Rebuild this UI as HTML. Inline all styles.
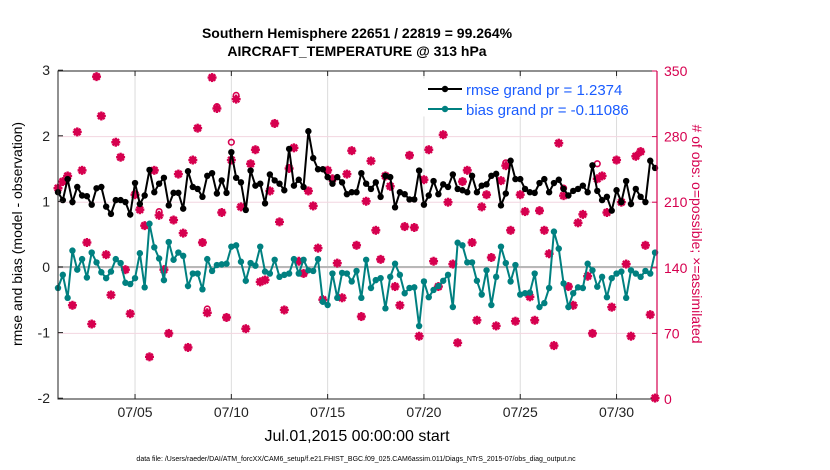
<!DOCTYPE html>
<html><head><meta charset="utf-8"><style>
body{margin:0;background:#fff;}
svg{display:block;font-family:"Liberation Sans",Arial,sans-serif;}
</style></head><body>
<svg id="chart" width="830" height="470" viewBox="0 0 830 470" xmlns="http://www.w3.org/2000/svg">
<rect width="830" height="470" fill="#fff"/>
<text x="357" y="38" text-anchor="middle" font-size="14" font-weight="bold">Southern Hemisphere 22651 / 22819 = 99.264%</text>
<text x="357" y="56" text-anchor="middle" font-size="14" font-weight="bold">AIRCRAFT_TEMPERATURE @ 313 hPa</text>
<g id="grid"></g>
<g id="marks"></g>
<g id="axes"></g>
<text transform="translate(22,234) rotate(-90)" text-anchor="middle" font-size="14">rmse and bias (model - observation)</text>
<text transform="translate(692,234) rotate(90)" text-anchor="middle" font-size="14" fill="#d6004f"># of obs: o=possible; ×=assimilated</text>
<text x="357" y="441" text-anchor="middle" font-size="16">Jul.01,2015 00:00:00 start</text>
<text x="356" y="461" text-anchor="middle" font-size="7">data file: /Users/raeder/DAI/ATM_forcXX/CAM6_setup/f.e21.FHIST_BGC.f09_025.CAM6assim.011/Diags_NTrS_2015-07/obs_diag_output.nc</text>
<g>
<rect x="421" y="79" width="224" height="37" fill="#fff" stroke="#fff"/>
<g>
<line x1="428" y1="89" x2="462" y2="89" stroke="#000" stroke-width="2"/><circle cx="445" cy="89" r="3.2" fill="#000"/>
<text x="466" y="95" font-size="15" fill="#1a5cff">rmse grand pr = 1.2374</text></g>
<g>
<line x1="428" y1="109" x2="462" y2="109" stroke="#008080" stroke-width="2"/><circle cx="445" cy="109" r="3.2" fill="#008080"/>
<text x="466" y="115" font-size="15" fill="#1a5cff">bias grand pr = -0.11086</text></g>
</g>
</svg>
<script>
const rmseVals=[1.14,1.02,1.34,0.99,1.22,1.09,1.08,0.95,1.20,1.22,0.92,0.81,1.02,1.02,0.99,0.80,1.28,0.96,1.09,1.48,1.14,1.27,1.36,0.94,1.13,1.13,0.89,1.46,1.22,1.19,1.07,1.39,1.43,1.12,1.32,1.13,1.75,1.36,1.29,0.87,1.47,1.24,
1.27,0.97,1.41,1.32,1.27,1.17,1.80,1.24,1.33,1.22,2.07,1.66,1.49,1.49,1.37,1.27,1.37,1.29,1.11,1.14,1.14,1.43,1.27,1.19,1.29,1.07,1.39,1.37,0.91,1.14,1.11,1.03,1.03,1.47,0.95,1.09,1.31,1.11,1.26,1.22,1.41,1.19,
1.17,1.14,1.39,1.14,1.24,1.26,1.39,1.42,0.94,1.12,1.62,1.34,1.34,1.19,1.14,1.13,1.28,1.34,1.14,1.28,1.33,1.19,1.09,1.16,1.19,1.24,1.14,1.55,1.16,1.02,1.07,0.86,1.17,0.99,1.31,0.96,1.19,1.07,0.99,1.62,1.51];
const biasVals=[-0.32,-0.12,-0.47,0.25,-0.04,0.12,-0.16,0.22,0.07,-0.08,-0.17,-0.07,0.12,0.06,-0.24,-0.26,-0.17,0.21,-0.31,0.66,0.30,0.13,-0.20,0.38,0.11,0.22,0.17,-0.29,-0.10,-0.10,-0.34,0.12,-0.06,0.03,0.04,0.05,0.31,0.33,0.08,-0.21,0.06,0.02,
0.31,-0.07,-0.10,0.11,-0.15,-0.12,-0.10,0.12,-0.10,0.11,-0.05,-0.06,0.12,-0.53,-0.58,-0.10,-0.47,-0.09,-0.10,-0.22,-0.06,-0.47,0.11,-0.32,-0.20,-0.17,-0.63,-0.15,0.05,-0.12,-0.40,-0.32,-0.31,-0.90,-0.22,-0.46,-0.35,-0.29,-0.21,-0.12,-0.61,0.37,
0.33,0.07,0.07,-0.21,-0.42,-0.05,-0.58,-0.15,0.31,0.06,-0.22,0.03,-0.42,-0.40,-0.39,-0.10,-0.61,-0.55,-0.32,0.54,0.28,-0.25,-0.61,-0.40,-0.31,-0.32,0.05,-0.05,-0.30,-0.15,-0.46,-0.17,-0.10,-0.07,-0.47,-0.05,-0.10,-0.15,-0.06,-0.10,0.22];
const obsAssim=[225,232,238,100,285,244,167,80,344,302,154,111,274,258,138,91,218,202,185,45,244,196,138,70,191,240,177,55,255,289,167,92,343,310,199,87,255,320,205,75,251,266,
125,127,222,294,189,95,246,268,147,134,222,206,161,106,244,235,145,108,240,265,164,88,211,254,180,149,238,227,120,100,184,260,183,67,234,266,147,120,282,210,144,60,
232,244,167,84,205,218,151,78,233,249,180,83,218,200,109,84,201,180,155,57,273,217,120,100,188,197,131,70,235,238,199,98,255,210,144,67,259,264,164,90,1];
const obsPossibleExtra={21:200,31:96,33:312,36:274,37:324,93:252,105:225,112:251};
const xTickLabels=["07/05","07/10","07/15","07/20","07/25","07/30"];
const xTickDays=[4,9,14,19,24,29];
const yLeftTicks=[-2,-1,0,1,2,3];
const yRightTicks=[0,70,140,210,280,350];

const L=58,R=657,T=71,B=399,DAY=19.26;
const xs=i=>L+i*0.25*DAY;
const xd=d=>L+d*DAY;
const yl=v=>267-v*65.6;
const yr=c=>B-c*(B-T)/350;
const NS="http://www.w3.org/2000/svg";
function mk(p,tag,at){const e=document.createElementNS(NS,tag);for(const k in at)e.setAttribute(k,at[k]);p.appendChild(e);return e;}
const grid=document.getElementById('grid'),marks=document.getElementById('marks'),axes=document.getElementById('axes');

xTickDays.forEach(d=>{const g=mk(grid,'line',{x1:xd(d),x2:xd(d),y1:T,y2:B,stroke:'#dcdcdc','stroke-width':1});

});
yRightTicks.slice(1,-1).forEach(c=>{const g=mk(grid,'line',{x1:L,x2:R,y1:yr(c),y2:yr(c),stroke:'#f2d6e0','stroke-width':1});

});
const z=mk(grid,'line',{x1:L,x2:R,y1:yl(0),y2:yl(0),stroke:'#b8b8b8','stroke-width':2});



obsAssim.forEach((c,i)=>{const x=xs(i),y=yr(c);
const g=mk(marks,'g',{stroke:'#d6004f','stroke-width':2.4});


mk(g,'line',{x1:x-4.5,x2:x+4.5,y1:y,y2:y});mk(g,'line',{x1:x,x2:x,y1:y-4.5,y2:y+4.5});
mk(g,'line',{x1:x-3.2,x2:x+3.2,y1:y-3.2,y2:y+3.2});mk(g,'line',{x1:x-3.2,x2:x+3.2,y1:y+3.2,y2:y-3.2});
const pc=(i in obsPossibleExtra)?obsPossibleExtra[i]:c;
const o=mk(marks,'circle',{cx:x,cy:yr(pc),r:2.8,fill:'none',stroke:'#d6004f','stroke-width':1.6});

});

function series(vals,col,name){
const p=mk(marks,'polyline',{points:vals.map((v,i)=>xs(i)+','+yl(v)).join(' '),fill:'none',stroke:col,'stroke-width':2});


vals.forEach((v,i)=>{const c=mk(marks,'circle',{cx:xs(i),cy:yl(v),r:3.2,fill:col});

});}
series(rmseVals,'#000','rmse');
series(biasVals,'#008080','bias');

const bx=mk(axes,'path',{d:`M${R},${T}H${L}V${B}H${R}`,fill:'none',stroke:'#222','stroke-width':1});


const ra=mk(axes,'line',{x1:R,x2:R,y1:T,y2:B,stroke:'#d6004f','stroke-width':1.2});


xTickDays.forEach((d,k)=>{mk(axes,'line',{x1:xd(d),x2:xd(d),y1:B,y2:B-5,stroke:'#222'});mk(axes,'line',{x1:xd(d),x2:xd(d),y1:T,y2:T+5,stroke:'#222'});
const t=mk(axes,'text',{x:xd(d),y:417,'text-anchor':'middle','font-size':14,fill:'#222'});t.textContent=xTickLabels[k];

});
yLeftTicks.forEach(v=>{mk(axes,'line',{x1:L,x2:L+5,y1:yl(v),y2:yl(v),stroke:'#222'});
const t=mk(axes,'text',{x:50,y:yl(v)+5,'text-anchor':'end','font-size':14,fill:'#222'});t.textContent=v;

});
yRightTicks.forEach(c=>{mk(axes,'line',{x1:R,x2:R-5,y1:yr(c),y2:yr(c),stroke:'#d6004f'});
const t=mk(axes,'text',{x:664,y:yr(c)+5,'font-size':14,fill:'#d6004f'});t.textContent=c;

});
</script>
</body></html>
